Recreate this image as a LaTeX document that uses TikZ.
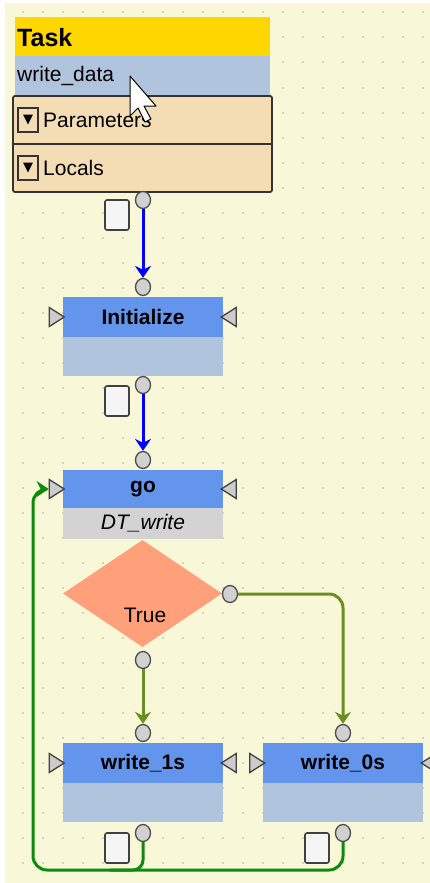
\documentclass[tikz,border=0pt]{standalone}
\usepackage{fontspec}
\setmainfont{Liberation Sans}
\newfontfamily\symfont{DejaVu Sans}
\usetikzlibrary{shapes.geometric, arrows.meta}
\definecolor{canvas}{HTML}{F8F8D8}
\definecolor{dotc}{HTML}{D2D2C2}
\definecolor{taskgold}{HTML}{FFD700}
\definecolor{steel}{HTML}{B0C4DE}
\definecolor{wheatbox}{HTML}{F4DDB4}
\definecolor{headblue}{HTML}{6495ED}
\definecolor{dtgray}{HTML}{D3D3D3}
\definecolor{condsalmon}{HTML}{FFA07A}
\definecolor{olive}{HTML}{6B8E23}
\definecolor{loopgreen}{HTML}{0E8A0E}
\tikzstyle{head} = [rectangle, fill=headblue, minimum width=160pt, minimum height=40pt, inner sep=0, font=\bfseries\fontsize{21}{21}\selectfont]
\tikzstyle{body} = [rectangle, fill=steel, minimum width=160pt, minimum height=39pt, inner sep=0]
\tikzstyle{port} = [ellipse, draw=black!70, fill=black!18, line width=1.3pt, minimum width=15pt, minimum height=17pt, inner sep=0]
\tikzstyle{pad} = [rectangle, rounded corners=2pt, draw=black!75, fill=black!4, line width=1.6pt, minimum width=24pt, minimum height=30pt, inner sep=0]
\tikzstyle{pinin} = [isosceles triangle, isosceles triangle stretches, draw=black!75, fill=black!20, line width=1.3pt, minimum width=19pt, minimum height=15pt, inner sep=0]
\tikzstyle{pinout} = [pinin, shape border rotate=180]
\tikzstyle{fold} = [rectangle, draw=black!80, line width=1.3pt, minimum width=20pt, minimum height=24pt, inner sep=0, font=\symfont\fontsize{13}{13}\selectfont]
\tikzstyle{bluearrow} = [blue, line width=3pt, -{Stealth[length=12pt, width=16pt, inset=4pt]}]
\tikzstyle{olivearrow} = [olive, line width=3pt, rounded corners=14pt, -{Stealth[length=12pt, width=16pt, inset=4pt]}]
\tikzstyle{looparrow} = [loopgreen, line width=3pt, rounded corners=14pt, -{Stealth[length=12pt, width=16pt, inset=4pt]}]
\begin{document}
\begin{tikzpicture}[x=1pt, y=-1pt]
\path[use as bounding box, clip] (0,0) rectangle (430,883);
\fill[white] (0,0) rectangle (430,883);
\fill[canvas] (5,3) rectangle (430,883);
\foreach \i in {0,...,20} \foreach \j in {0,...,35}
  \fill[dotc] (21.7+20*\i, 11.5+25*\j) rectangle +(2,2);

% task header
\node (task) [anchor=north west, fill=taskgold, minimum width=255pt, minimum height=40pt, text width=251pt, inner sep=2pt, font=\bfseries\fontsize{25}{25}\selectfont] at (15,17) {Task};
\node (taskname) [anchor=north west, fill=steel, minimum width=255pt, minimum height=39pt, text width=251pt, inner sep=2pt, font=\fontsize{21}{21}\selectfont] at (15,56) {write\_data};
\draw[fill=wheatbox, draw=black!80, line width=1.8pt, rounded corners=2pt] (13,96) rectangle (272,192);
\draw[black!80, line width=1.8pt] (13,144) -- (272,144);
\node (parIcon) [fold] at (28,120) {▼};
\node (locIcon) [fold] at (28,168) {▼};
\node (params) [anchor=west, inner sep=0, font=\fontsize{21}{21}\selectfont] at (43,120) {Parameters};
\node (locals) [anchor=west, inner sep=0, font=\fontsize{21}{21}\selectfont] at (43,168) {Locals};
\draw[fill=white, line width=1pt, line join=round] (130,76) -- ++(0,40) -- ++(8,-8) -- ++(7,14) -- ++(6,-3) -- ++(-7,-13) -- ++(12,0) -- cycle;
\node (p0) [port] at (143,200) {};
\node (pad0) [pad] at (117,215) {};

% Initialize
\node (init) [head] at (143,317) {Initialize};
\node (initb) [body] at (143,356.5) {};
\node (initIn) [port] at (143,287) {};
\node (initL) [pinin] at (54.5,317) {};
\node (initR) [pinout] at (231,317) {};
\node (initOut) [port] at (143,385) {};
\node (pad1) [pad] at (117,401) {};

% go
\node (go) [head, minimum height=38pt] at (143,489) {go};
\node (gob) [body, fill=dtgray, minimum height=31pt, font=\itshape\fontsize{21}{21}\selectfont] at (143,523.5) {DT\_write};
\node (goIn) [port] at (143,460) {};
\node (goL) [pinin] at (54.5,489) {};
\node (goR) [pinout] at (231,489) {};

% condition
\node (cond) [diamond, fill=condsalmon, minimum width=159pt, minimum height=107pt, inner sep=0] at (142.5,593.5) {};
\node (condtxt) [font=\fontsize{21}{21}\selectfont] at (145,615) {True};
\node (ptrue) [port] at (143,660) {};
\node (pfalse) [port] at (230,594) {};

% write blocks
\node (w1) [head] at (143,763) {write\_1s};
\node (w1b) [body] at (143,802.5) {};
\node (w1In) [port] at (143,733) {};
\node (w1L) [pinin] at (54.5,763) {};
\node (w1R) [pinout] at (231,763) {};
\node (w1Out) [port] at (143,833) {};
\node (pad2) [pad] at (117,848) {};
\node (w0) [head] at (343,763) {write\_0s};
\node (w0b) [body] at (343,802.5) {};
\node (w0In) [port] at (343,733) {};
\node (w0L) [pinin] at (255,763) {};
\node (w0R) [pinout] at (431,763) {};
\node (w0Out) [port] at (343,833) {};
\node (pad3) [pad] at (317,848) {};
\coordinate (loopbot) at (33,870);
\coordinate (merge) at (110,870);

\draw [bluearrow] (p0) -- (initIn);
\draw [bluearrow] (initOut) -- (goIn);
\draw [olivearrow] (ptrue) -- (w1In);
\draw [olivearrow] (pfalse) -| (w0In);
\draw [looparrow, -, rounded corners=10pt] (w1Out) |- (merge);
\draw [looparrow] (w0Out) |- (loopbot) |- (goL);
\end{tikzpicture}
\end{document}
